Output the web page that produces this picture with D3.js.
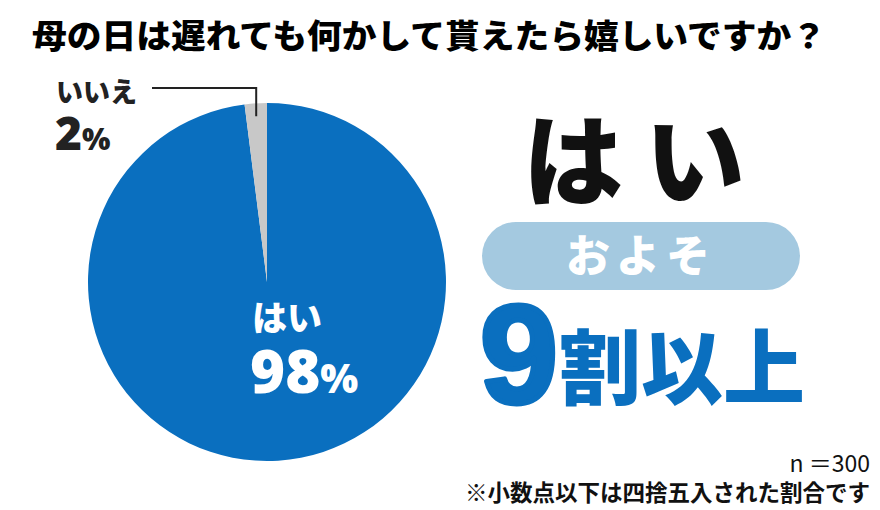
<!DOCTYPE html>
<html><head><meta charset="utf-8">
<script src="https://cdn.jsdelivr.net/npm/d3@7"></script>
<style>body{margin:0;background:#fff}svg{display:block}</style>
</head><body><svg id="c" width="880" height="510"></svg>
<script>
const title = "母の日は遅れても何かして貰えたら嬉しいですか？";
const categories = ["はい", "いいえ"];
const values = [98, 2];
const colors = ["#0a6fbf", "#c8c8c8"];
const headline = "はい";
const pillText = "およそ";
const bigNum = "9";
const bigRest = "割以上";
const sampleNote = "n ＝300";
const footNote = "※小数点以下は四捨五入された割合です";

const svg = d3.select("#c");
const JP = "'Noto Sans CJK JP', 'Noto Sans', sans-serif";

svg.append("text").attr("x", 429).attr("y", 48).attr("text-anchor", "middle")
  .attr("font-family", JP).attr("font-weight", 900).attr("font-size", 33)
  .attr("textLength", 794).attr("lengthAdjust", "spacingAndGlyphs")
  .text(title);

const cx = 267, cy = 282, R = 179;
const pie = d3.pie().sort(null);
const arcs = pie(values);
const arc = d3.arc().innerRadius(0).outerRadius(R);
const g = svg.append("g").attr("transform", `translate(${cx},${cy})`);
g.selectAll("path").data(arcs).join("path")
  .attr("d", arc).attr("fill", (d, i) => colors[i]);

// leader for small slice
const small = arcs[1];
const mid = (small.startAngle + small.endAngle) / 2;
const px = cx + Math.sin(mid) * (R - 7), py = cy - Math.cos(mid) * (R - 7);
svg.append("path")
  .attr("d", `M${px},${py + 6}V88H152`)
  .attr("fill", "none").attr("stroke", "#222").attr("stroke-width", 2);
svg.append("text").attr("x", 56).attr("y", 102)
  .attr("font-family", JP).attr("font-weight", 900).attr("font-size", 27)
  .attr("fill", "#222").text(categories[1]);
const t2 = svg.append("text").attr("x", 55).attr("y", 150)
  .attr("font-family", "'Open Sans', 'Noto Sans', sans-serif").attr("font-weight", 800).attr("fill", "#222");
t2.append("tspan").attr("font-size", 46).text(values[1]);
t2.append("tspan").attr("font-size", 30).text("%");

// inside label
svg.append("text").attr("x", 252).attr("y", 331)
  .attr("font-family", JP).attr("font-weight", 900).attr("font-size", 35)
  .attr("fill", "#fff").text(categories[0]);
const t1 = svg.append("text").attr("x", 250).attr("y", 393)
  .attr("font-family", "'Open Sans', 'Noto Sans', sans-serif").attr("font-weight", 800).attr("fill", "#fff");
t1.append("tspan").attr("font-size", 60).text(values[0]);
t1.append("tspan").attr("font-size", 40).text("%");

// right side
svg.append("text").attr("x", 645).attr("y", 198).attr("text-anchor", "middle")
  .attr("font-family", JP).attr("font-weight", 900).attr("font-size", 100)
  .attr("fill", "#111").attr("letter-spacing", 22).text(headline);
svg.append("rect").attr("x", 482).attr("y", 222).attr("width", 318).attr("height", 68)
  .attr("rx", 34).attr("fill", "#a4c9e0");
svg.append("text").attr("x", 641).attr("y", 272).attr("text-anchor", "middle")
  .attr("font-family", JP).attr("font-weight", 900).attr("font-size", 44)
  .attr("fill", "#fff").attr("letter-spacing", 6).text(pillText);
svg.append("text").attr("x", 480).attr("y", 403)
  .attr("font-family", "'Liberation Sans', Arial, sans-serif").attr("font-weight", 900)
  .attr("font-size", 140).attr("fill", "#0a6fbf")
  .attr("stroke", "#0a6fbf").attr("stroke-width", 5).attr("stroke-linejoin", "round").text(bigNum);
svg.append("text").attr("x", 559).attr("y", 398)
  .attr("font-family", JP).attr("font-weight", 900).attr("font-size", 82)
  .attr("fill", "#0a6fbf").text(bigRest);

// footer
svg.append("text").attr("x", 870).attr("y", 472).attr("text-anchor", "end")
  .attr("font-family", JP).attr("font-weight", 400).attr("font-size", 23)
  .attr("fill", "#111").text(sampleNote);
svg.append("text").attr("x", 870).attr("y", 501).attr("text-anchor", "end")
  .attr("font-family", JP).attr("font-weight", 700).attr("font-size", 22.5)
  .attr("fill", "#111").text(footNote);
</script></body></html>
